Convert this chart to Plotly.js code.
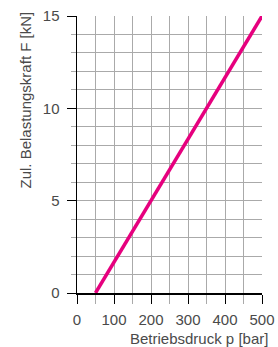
<!DOCTYPE html>
<html><head><meta charset="utf-8">
<script src="https://cdn.plot.ly/plotly-3.0.1.min.js"></script>
<style>html,body{margin:0;padding:0;background:#fff}#c{width:278px;height:347px}</style>
</head><body><div id="c"></div>
<script>
const pressure = [50, 500];
const force = [0, 15];
const xTickVals = [0, 100, 200, 300, 400, 500];
const yTickVals = [0, 5, 10, 15];
const xTitle = 'Betriebsdruck p [bar]';
const yTitle = 'Zul. Belastungskraft F [kN]';

const font = {family: 'Liberation Sans, Arial, sans-serif', size: 15, color: '#4a4a4a'};
Plotly.newPlot('c', [{
  x: pressure, y: force, mode: 'lines', type: 'scatter',
  line: {color: '#e6007e', width: 3.5}, hoverinfo: 'skip', cliponaxis: false
}], {
  width: 278, height: 347,
  margin: {l: 77, r: 16, t: 16, b: 54},
  paper_bgcolor: '#fff', plot_bgcolor: '#fff',
  showlegend: false, font: font,
  xaxis: {range: [0, 500], tickvals: xTickVals, ticks: 'outside', ticklen: 9, tickcolor: '#000', tickwidth: 1,
    showline: true, linecolor: '#000', linewidth: 1.5, zeroline: false,
    showgrid: true, gridcolor: '#aaa', gridwidth: 1, ticklabelstandoff: 3,
    minor: {dtick: 50, showgrid: true, gridcolor: '#aaa', ticks: 'outside', ticklen: 9, tickcolor: '#aaa'},
    tickfont: font, fixedrange: true},
  yaxis: {range: [0, 15], tickvals: yTickVals, ticks: 'outside', ticklen: 9, tickcolor: '#000', tickwidth: 1,
    showline: true, linecolor: '#000', linewidth: 1.5, zeroline: false,
    showgrid: true, gridcolor: '#aaa', gridwidth: 1, ticklabelstandoff: 4,
    minor: {dtick: 1, showgrid: true, gridcolor: '#aaa', ticks: 'outside', ticklen: 5, tickcolor: '#aaa'},
    tickfont: font, fixedrange: true},
  annotations: [
    {text: xTitle, xref: 'paper', yref: 'paper', x: 1.043, y: -0.166, xanchor: 'right', yanchor: 'middle', showarrow: false, font: font},
    {text: yTitle, xref: 'paper', yref: 'paper', x: -0.276, y: 1.025, xanchor: 'center', yanchor: 'top', textangle: -90, showarrow: false, font: font}
  ]
}, {displayModeBar: false, staticPlot: true});
</script></body></html>
